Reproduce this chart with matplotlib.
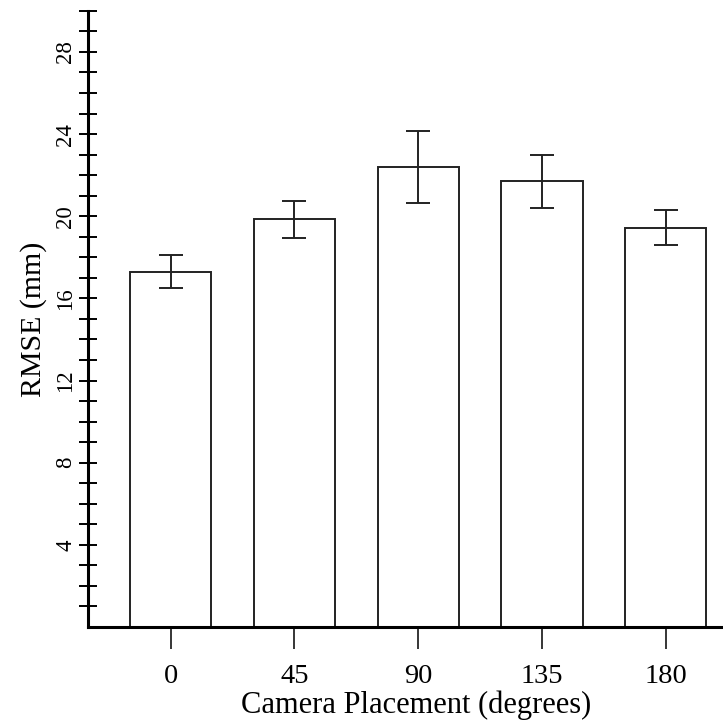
import numpy as np
import matplotlib.pyplot as plt
from matplotlib.ticker import FixedLocator

# data
placements = ["0", "45", "90", "135", "180"]
rmse = [17.3, 19.85, 22.4, 21.7, 19.45]
rmse_err = [0.8, 0.9, 1.75, 1.28, 0.86]

plt.rcParams['font.family'] = ['Liberation Serif', 'DejaVu Serif']

fig = plt.figure(figsize=(7.23, 7.24), dpi=100)
# the axes runs a little past the right edge of the figure, as in the reference
ax = fig.add_axes([0.1217, 0.134, 0.907, 0.851])

x = np.arange(len(placements))
ax.bar(x, rmse, width=0.655, color='white', edgecolor='#222222', linewidth=1.4, zorder=2)
ax.errorbar(x, rmse, yerr=rmse_err, fmt='none', ecolor='#222222',
            elinewidth=1.4, capsize=8.5, capthick=1.4, zorder=3)

ax.set_xlim(-0.668, 4.63)
ax.set_ylim(0, 30)

ax.spines['top'].set_visible(False)
ax.spines['right'].set_visible(False)
ax.spines['left'].set_linewidth(2.2)
ax.spines['bottom'].set_linewidth(2.2)

ax.set_xticks(x)
ax.set_xticklabels(placements, fontsize=20.5)
ax.tick_params(axis='x', direction='out', length=16, width=1.1, pad=11)

ax.set_yticks([4, 8, 12, 16, 20, 24, 28])
ax.yaxis.set_minor_locator(FixedLocator([v for v in range(1, 31) if v % 4 != 0]))
ax.tick_params(axis='y', which='both', direction='inout', length=13, width=1.4)
ax.tick_params(axis='y', which='major', labelsize=16.5, pad=2)
for lbl in ax.get_yticklabels():
    lbl.set_rotation(90)
    lbl.set_va('center')

ax.set_xlabel("Camera Placement (degrees)", fontsize=22, labelpad=1)
ax.set_ylabel("RMSE (mm)", fontsize=21.5, labelpad=6)

fig.savefig("out.png", dpi=100)
